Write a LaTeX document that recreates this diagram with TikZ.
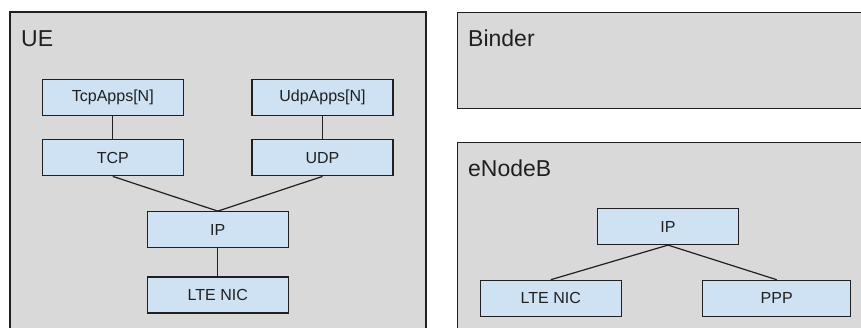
\documentclass[tikz,border=0pt]{standalone}
\usepackage{fontspec}
\setmainfont{Liberation Sans}
\usepackage{tikz}
\usetikzlibrary{positioning}

\definecolor{hostgray}{HTML}{D9D9D9}
\definecolor{layerblue}{HTML}{CFE2F3}
\definecolor{edgegray}{HTML}{202020}

\tikzset{
  host/.style={draw=edgegray, fill=hostgray, line width=1.3pt},
  hostname/.style={anchor=base west, inner sep=0pt, text=edgegray, font=\fontsize{23}{26}\selectfont},
  layer/.style={draw=edgegray, fill=layerblue, line width=1.2pt, minimum width=141pt, minimum height=36pt, inner sep=0pt, text=edgegray, font=\fontsize{16}{19}\selectfont},
  link/.style={draw=edgegray, line width=1.2pt}
}

\begin{document}
\begin{tikzpicture}[x=1pt, y=-1pt]
\clip (0,0) rectangle (861,327);
\fill[white] (0,0) rectangle (861,327);

% hosts
\draw[host] (10,12) rectangle (426,345);
\node[hostname] (ue) at (21,46.7) {UE};
\draw[host] (457.5,12.3) rectangle (880,108.5);
\node[hostname] (binder) at (468,46.5) {Binder};
\draw[host] (457.5,142.5) rectangle (880,345);
\node[hostname] (enb) at (468,176.7) {eNodeB};

% UE stack
\node[layer] (tcpapps) at (112.8,97.3) {TcpApps[N]};
\node[layer] (udpapps) at (322.5,97.3) {UdpApps[N]};
\node[layer] (tcp) at (112.8,157.8) {TCP};
\node[layer] (udp) at (322.5,157.8) {UDP};
\node[layer] (ueip) at (217.8,229.7) {IP};
\node[layer] (uenic) at (217.8,295) {LTE NIC};

\draw[link] (tcpapps) -- (tcp);
\draw[link] (udpapps) -- (udp);
\draw[link] (tcp.south) -- (ueip.north);
\draw[link] (udp.south) -- (ueip.north);
\draw[link] (ueip) -- (uenic);

% eNodeB stack
\node[layer] (enbip) at (668,226.5) {IP};
\node[layer] (enbnic) at (550.8,298.3) {LTE NIC};
\node[layer, minimum width=148pt] (ppp) at (776.7,298.3) {PPP};

\draw[link] (enbip.south) -- (enbnic.north);
\draw[link] (enbip.south) -- (ppp.north);
\end{tikzpicture}
\end{document}
